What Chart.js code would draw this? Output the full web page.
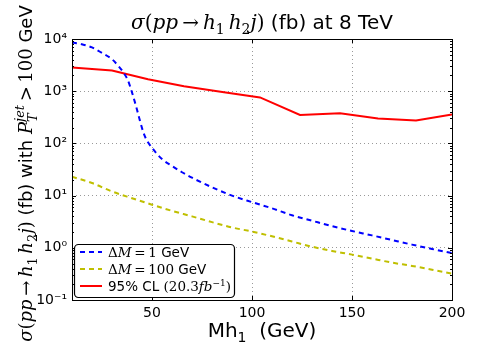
<!DOCTYPE html>
<html>
<head>
<meta charset="utf-8">
<script src="https://cdn.jsdelivr.net/npm/chart.js@4.4.0/dist/chart.umd.min.js"></script>
<style>
  html, body { margin: 0; padding: 0; background: #fff; }
  canvas { display: block; }
</style>
</head>
<body>
<canvas id="xsec" width="477" height="358"></canvas>
<script>
// values (x = Mh1 in GeV, y = cross section in fb)
const blueMass = [10, 15, 20, 25, 30, 33, 36, 38, 40, 42, 44, 46, 48, 50, 55, 60, 65, 70, 80, 90, 100, 110, 120, 130, 140, 150, 160, 170, 180, 190, 200];
const blueXsec = [8600, 7900, 6900, 5400, 4100, 3100, 2200, 1600, 950, 520, 270, 150, 105, 82, 50, 37, 28, 22, 14.4, 10, 7.5, 5.7, 4.2, 3.3, 2.6, 2.1, 1.73, 1.41, 1.15, 0.95, 0.79];
const yellowMass = [10, 20, 30, 40, 50, 60, 70, 80, 90, 100, 110, 120, 130, 140, 150, 160, 170, 180, 190, 200];
const yellowXsec = [23, 17.4, 12, 8.9, 6.7, 5.1, 4.0, 3.1, 2.45, 2.05, 1.66, 1.32, 1.05, 0.87, 0.74, 0.62, 0.52, 0.45, 0.38, 0.32];
const redMass = [10, 30, 48, 66, 86, 104, 124, 144, 163, 182, 200];
const redLimit = [2850, 2500, 1700, 1250, 950, 760, 350, 380, 300, 275, 360];

const xTicks = [50, 100, 150, 200];
const yDecades = [-1, 0, 1, 2, 3, 4];

const SANS = '"DejaVu Sans"';
const SERIF = '"DejaVu Serif"';

// rich text pieces: [text, kind]
const titleParts = [['σ', 'mi'], ['(', 'mr'], ['pp', 'mi'], ['\u2009→\u2009', 'mr'], ['h', 'mi'], ['1', 'sub'], ['\u2009h', 'mi'], ['2', 'sub'], ['j', 'mi'], [')', 'mr'], [' (fb) at 8 TeV', 's']];
const yLabelParts = [['σ', 'mi'], ['(', 'mr'], ['pp', 'mi'], ['\u2009→\u2009', 'mr'], ['h', 'mi'], ['1', 'sub'], ['\u2009h', 'mi'], ['2', 'sub'], ['j', 'mi'], [')', 'mr'], [' (fb) with ', 's'], ['P', 'mi'], ['T', 'subs'], ['jet', 'supi'], ['\u2009>\u2009100', 'mr'], [' GeV', 's']];
const xLabelParts = [['Mh', 's'], ['1', 'ssub'], ['  (GeV)', 's']];
const legendParts = [
  [['Δ', 'mr'], ['M', 'mi'], ['\u2009=\u20091', 'mr'], [' GeV', 's']],
  [['Δ', 'mr'], ['M', 'mi'], ['\u2009=\u2009100', 'mr'], [' GeV', 's']],
  [['95% CL ', 's'], ['(20.3', 'mr'], ['fb', 'mi'], ['−1', 'sup'], [')', 'mr']]
];

function partFont(kind, size) {
  const small = Math.round(size * 0.7);
  switch (kind) {
    case 'mi': return ['italic ' + size + 'px ' + SERIF, 0];
    case 'mr': return [size + 'px ' + SERIF, 0];
    case 'sub': return [small + 'px ' + SERIF, size * 0.25];
    case 'subs': return ['italic ' + small + 'px ' + SERIF, size * 0.3];
    case 'sup': return [small + 'px ' + SERIF, -size * 0.4];
    case 'supi': return ['italic ' + small + 'px ' + SERIF, -size * 0.45];
    case 'ssub': return [small + 'px ' + SANS, size * 0.25];
    default: return [size + 'px ' + SANS, 0];
  }
}

function drawRich(ctx, parts, x, y, size, align, angle) {
  ctx.save();
  ctx.translate(x, y);
  if (angle) ctx.rotate(angle);
  ctx.fillStyle = '#000';
  ctx.textAlign = 'left';
  ctx.textBaseline = 'alphabetic';
  let total = 0;
  const widths = parts.map(([t, k]) => {
    ctx.font = partFont(k, size)[0];
    const w = ctx.measureText(t).width;
    if (k !== 'subs') total += w;
    return w;
  });
  let cx = align === 'center' ? -total / 2 : 0;
  parts.forEach(([t, k], i) => {
    const [f, dy] = partFont(k, size);
    ctx.font = f;
    ctx.fillText(t, cx, dy);
    if (k !== 'subs') cx += widths[i];
  });
  ctx.restore();
}

const supDigits = { '-': '⁻', '0': '⁰', '1': '¹', '2': '²', '3': '³', '4': '⁴' };
const isDecade = v => Math.abs(Math.log10(v) - Math.round(Math.log10(v))) < 1e-6;

const yTickValues = [];
yDecades.forEach(k => {
  if (k === 4) { yTickValues.push(1e4); return; }
  for (let m = 1; m <= 9; m++) yTickValues.push(m * Math.pow(10, k));
});

// frame + inward tick marks like matplotlib
const frame = {
  id: 'frame',
  afterDatasetsDraw(chart) {
    const { ctx, chartArea: a, scales: { x, y } } = chart;
    ctx.save();
    ctx.strokeStyle = '#000';
    ctx.lineWidth = 1;
    ctx.beginPath();
    y.ticks.forEach(t => {
      const p = Math.round(y.getPixelForValue(t.value)) + 0.5;
      const len = isDecade(t.value) ? 4 : 2;
      ctx.moveTo(a.left, p); ctx.lineTo(a.left + len, p);
      ctx.moveTo(a.right, p); ctx.lineTo(a.right - len, p);
    });
    x.ticks.forEach(t => {
      const p = Math.round(x.getPixelForValue(t.value)) + 0.5;
      ctx.moveTo(p, a.bottom); ctx.lineTo(p, a.bottom - 4);
      ctx.moveTo(p, a.top); ctx.lineTo(p, a.top + 4);
    });
    ctx.stroke();
    ctx.strokeRect(Math.round(a.left) + 0.5, Math.round(a.top) + 0.5, Math.round(a.right - a.left), Math.round(a.bottom - a.top));
    ctx.restore();
  }
};

const texts = {
  id: 'texts',
  afterDraw(chart) {
    const { ctx, chartArea: a } = chart;
    const mid = (a.left + a.right) / 2;
    drawRich(ctx, titleParts, mid, 29, 20, 'center');
    drawRich(ctx, yLabelParts, 32, (a.top + a.bottom) / 2 + 4, 18, 'center', -Math.PI / 2);
    drawRich(ctx, xLabelParts, mid, 337, 20, 'center');

    // legend box
    const bx = 74, by = 244, bw = 160, bh = 53;
    ctx.save();
    ctx.beginPath();
    ctx.roundRect(bx + 0.5, by + 0.5, bw, bh, 4);
    ctx.fillStyle = '#fff';
    ctx.fill();
    ctx.strokeStyle = '#000';
    ctx.lineWidth = 1.2;
    ctx.stroke();
    chart.data.datasets.forEach((ds, i) => {
      const cy = by + 8 + i * 17;
      ctx.beginPath();
      ctx.strokeStyle = ds.borderColor;
      ctx.lineWidth = ds.borderWidth;
      ctx.setLineDash(ds.borderDash || []);
      ctx.moveTo(80, cy); ctx.lineTo(102, cy);
      ctx.stroke();
      ctx.setLineDash([]);
      drawRich(ctx, legendParts[i], 108, cy + 5, 13.5, 'left');
    });
    ctx.restore();
  }
};

new Chart(document.getElementById('xsec'), {
  type: 'line',
  data: {
    datasets: [
      {
        label: 'ΔM=1 GeV',
        data: blueMass.map((m, i) => ({ x: m, y: blueXsec[i] })),
        borderColor: '#0000ff',
        borderWidth: 2,
        borderDash: [5, 4],
        pointRadius: 0,
        cubicInterpolationMode: 'monotone',
        fill: false
      },
      {
        label: 'ΔM=100 GeV',
        data: yellowMass.map((m, i) => ({ x: m, y: yellowXsec[i] })),
        borderColor: '#bfbf00',
        borderWidth: 2,
        borderDash: [5, 4],
        pointRadius: 0,
        cubicInterpolationMode: 'monotone',
        fill: false
      },
      {
        label: '95% CL (20.3 fb-1)',
        data: redMass.map((m, i) => ({ x: m, y: redLimit[i] })),
        borderColor: '#ff0000',
        borderWidth: 2,
        pointRadius: 0,
        tension: 0,
        fill: false
      }
    ]
  },
  options: {
    responsive: false,
    animation: false,
    devicePixelRatio: 1,
    layout: { padding: { top: 39, right: 25, left: 0, bottom: 0 } },
    plugins: {
      legend: { display: false },
      title: { display: false },
      tooltip: { enabled: false }
    },
    scales: {
      x: {
        type: 'linear',
        min: 10,
        max: 200,
        afterBuildTicks: s => { s.ticks = xTicks.map(v => ({ value: v })); },
        afterFit: s => { s.height = 58; },
        grid: { color: '#999', lineWidth: 1, drawTicks: false },
        border: { display: false, dash: [1, 3] },
        ticks: {
          font: { family: 'DejaVu Sans', size: 14 },
          color: '#000',
          padding: 5,
          maxRotation: 0,
          autoSkip: false
        }
      },
      y: {
        type: 'logarithmic',
        min: 0.1,
        max: 10000,
        afterBuildTicks: s => { s.ticks = yTickValues.map(v => ({ value: v })); },
        afterFit: s => { s.width = 72; },
        grid: {
          color: c => (c.tick && isDecade(c.tick.value)) ? '#999' : 'rgba(0,0,0,0)',
          lineWidth: 1,
          drawTicks: false
        },
        border: { display: false, dash: [1, 3] },
        ticks: {
          font: { family: 'DejaVu Sans', size: 14 },
          color: '#000',
          padding: 5,
          autoSkip: false,
          callback: v => {
            if (!isDecade(v)) return '';
            const k = String(Math.round(Math.log10(v)));
            return '10' + k.split('').map(ch => supDigits[ch]).join('');
          }
        }
      }
    }
  },
  plugins: [frame, texts]
});
</script>
</body>
</html>
